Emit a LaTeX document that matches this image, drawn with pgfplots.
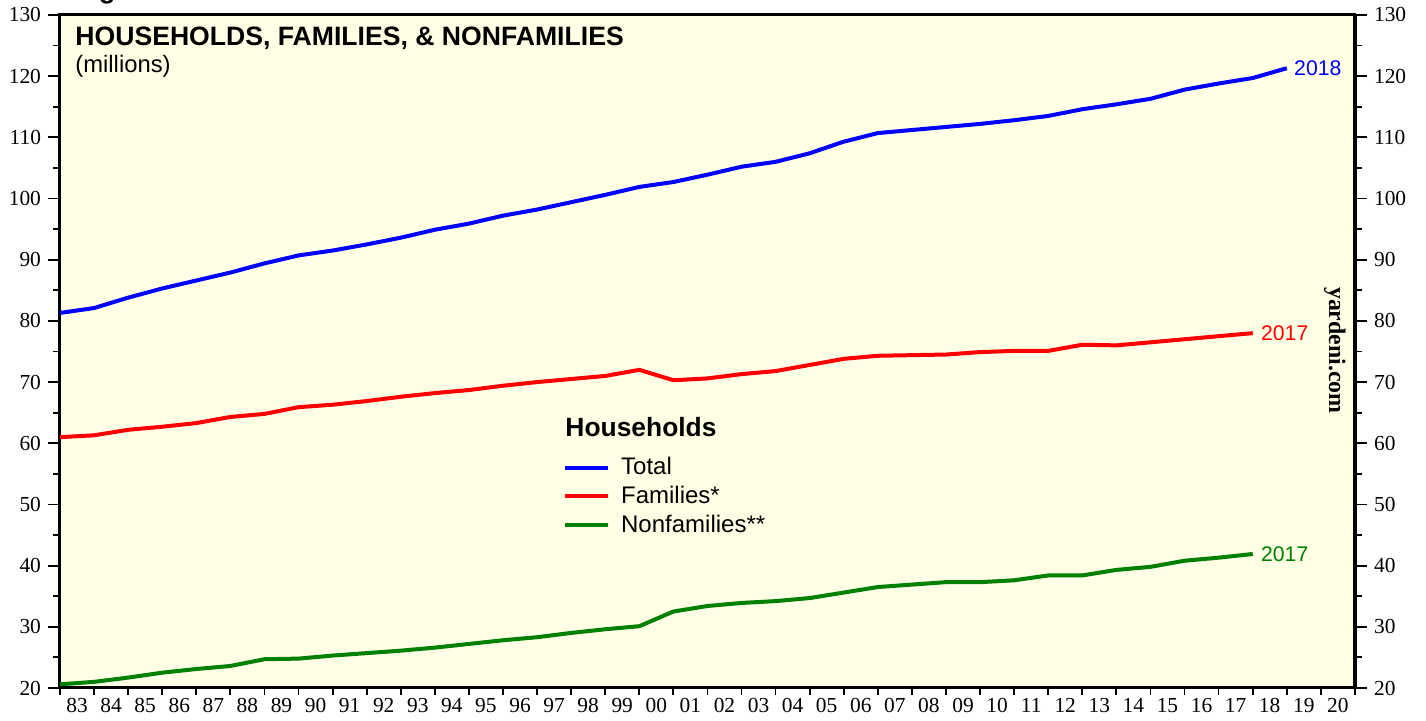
\documentclass[border=0pt]{standalone}
\usepackage{fontspec}
\setmainfont{Liberation Serif}
\newfontfamily\arial{Liberation Sans}
\usepackage{pgfplots}
\pgfplotsset{compat=1.18}
\usepackage{pgfplotstable}
\definecolor{bgyellow}{RGB}{255,255,229}
\definecolor{dgreen}{RGB}{0,128,0}

\pgfplotstableread{
year total
1983 81.3
1984 82.1
1985 83.8
1986 85.3
1987 86.6
1988 87.9
1989 89.4
1990 90.7
1991 91.5
1992 92.5
1993 93.6
1994 94.9
1995 95.9
1996 97.2
1997 98.2
1998 99.4
1999 100.6
2000 101.9
2001 102.7
2002 103.9
2003 105.2
2004 106.0
2005 107.4
2006 109.3
2007 110.7
2008 111.2
2009 111.7
2010 112.2
2011 112.8
2012 113.5
2013 114.6
2014 115.4
2015 116.3
2016 117.8
2017 118.8
2018 119.7
2019 121.3
}\totaltab

\pgfplotstableread{
year families
1983 61.0
1984 61.3
1985 62.2
1986 62.7
1987 63.3
1988 64.3
1989 64.8
1990 65.9
1991 66.3
1992 66.9
1993 67.6
1994 68.2
1995 68.7
1996 69.4
1997 70.0
1998 70.5
1999 71.0
2000 72.0
2001 70.3
2002 70.6
2003 71.3
2004 71.8
2005 72.8
2006 73.8
2007 74.3
2008 74.4
2009 74.5
2010 74.9
2011 75.1
2012 75.1
2013 76.1
2014 76.0
2015 76.5
2016 77.0
2017 77.5
2018 78.0
}\famtab

\pgfplotstableread{
year nonfam
1983 20.6
1984 21.0
1985 21.7
1986 22.5
1987 23.1
1988 23.6
1989 24.7
1990 24.8
1991 25.3
1992 25.7
1993 26.1
1994 26.6
1995 27.2
1996 27.8
1997 28.3
1998 29.0
1999 29.6
2000 30.1
2001 32.5
2002 33.4
2003 33.9
2004 34.2
2005 34.7
2006 35.6
2007 36.5
2008 36.9
2009 37.3
2010 37.3
2011 37.6
2012 38.4
2013 38.4
2014 39.3
2015 39.8
2016 40.8
2017 41.3
2018 41.9
}\nonfamtab

\begin{document}
\begin{tikzpicture}
\useasboundingbox (0,0) rectangle (713pt,360.5pt);
\node[anchor=base west, inner sep=0pt, font=\arial\bfseries\fontsize{13.3}{16}\selectfont] at (37.5pt,361pt) {Figure 1.};
\begin{axis}[
  at={(30pt,16.5pt)}, anchor=south west,
  scale only axis, width=647.5pt, height=336.5pt,
  xmin=1983, xmax=2021, ymin=20, ymax=130,
  axis background/.style={fill=bgyellow},
  axis line style={line width=1.5pt},
  tick align=outside,
  major tick length=6pt, minor tick length=3.5pt,
  xtick={1983.5,1984.5,...,2020.5},
  xticklabels={83,84,85,86,87,88,89,90,91,92,93,94,95,96,97,98,99,00,01,02,03,04,05,06,07,08,09,10,11,12,13,14,15,16,17,18,19,20},
  minor xtick={1983,1984,...,2021},
  major x tick style={draw=none},
  xtick pos=bottom,
  ytick={20,30,...,130},
  minor ytick={25,35,...,125},
  ytick pos=left,
  tick style={black, line width=0.9pt},
  tick label style={font=\fontsize{10.7}{12}\selectfont},
  xticklabel style={yshift=4.5pt},
  /pgf/number format/assume math mode=true,
  legend style={draw=none, fill=none, at={(rel axis cs:0.3836,0.355)}, anchor=north west,
    font=\arial\fontsize{12}{14}\selectfont, row sep=0.2pt, cells={anchor=west},
    /tikz/every odd column/.append style={column sep=3.5pt}},
  legend cell align=left,
  legend image code/.code={\draw[#1, line width=2pt] (0pt,0) -- (21.5pt,0);},
]
\addplot[blue, line width=2pt] table[x=year,y=total] {\totaltab};
\addlegendentry{Total}
\addplot[red, line width=2pt] table[x=year,y=families] {\famtab};
\addlegendentry{Families*}
\addplot[dgreen, line width=2pt] table[x=year,y=nonfam] {\nonfamtab};
\addlegendentry{Nonfamilies**}

\node[anchor=base west, inner sep=0pt, font=\arial\bfseries\fontsize{13.3}{16}\selectfont] at (rel axis cs:0.0116,0.9554) {HOUSEHOLDS, FAMILIES, \& NONFAMILIES};
\node[anchor=base west, inner sep=0pt, font=\arial\fontsize{11.9}{14}\selectfont] at (rel axis cs:0.0116,0.915) {(millions)};
\node[anchor=base west, inner sep=0pt, font=\arial\bfseries\fontsize{13.2}{16}\selectfont] at (rel axis cs:0.39,0.373) {Households};
\node[anchor=west, inner sep=0pt, text=blue, font=\arial\fontsize{10.6}{12}\selectfont] at (axis cs:2019,121.3) {\hspace{3.5pt}2018};
\node[anchor=west, inner sep=0pt, text=red, font=\arial\fontsize{10.6}{12}\selectfont] at (axis cs:2018,78.0) {\hspace{4pt}2017};
\node[anchor=west, inner sep=0pt, text=dgreen, font=\arial\fontsize{10.6}{12}\selectfont] at (axis cs:2018,41.9) {\hspace{4pt}2017};
\node[rotate=-90, inner sep=0pt, font=\bfseries\fontsize{11.9}{14}\selectfont] at (axis cs:2020.41,75.2) {yardeni.com};
\end{axis}
\begin{axis}[
  at={(30pt,16.5pt)}, anchor=south west,
  scale only axis, width=647.5pt, height=336.5pt,
  xmin=1983, xmax=2021, ymin=20, ymax=130,
  axis x line=none, axis y line*=right,
  axis line style={line width=1.5pt},
  tick align=outside,
  major tick length=6pt, minor tick length=3.5pt,
  ytick={20,30,...,130},
  minor ytick={25,35,...,125},
  tick style={black, line width=0.9pt},
  tick label style={font=\fontsize{10.7}{12}\selectfont},
  /pgf/number format/assume math mode=true,
]
\end{axis}
\end{tikzpicture}
\end{document}
